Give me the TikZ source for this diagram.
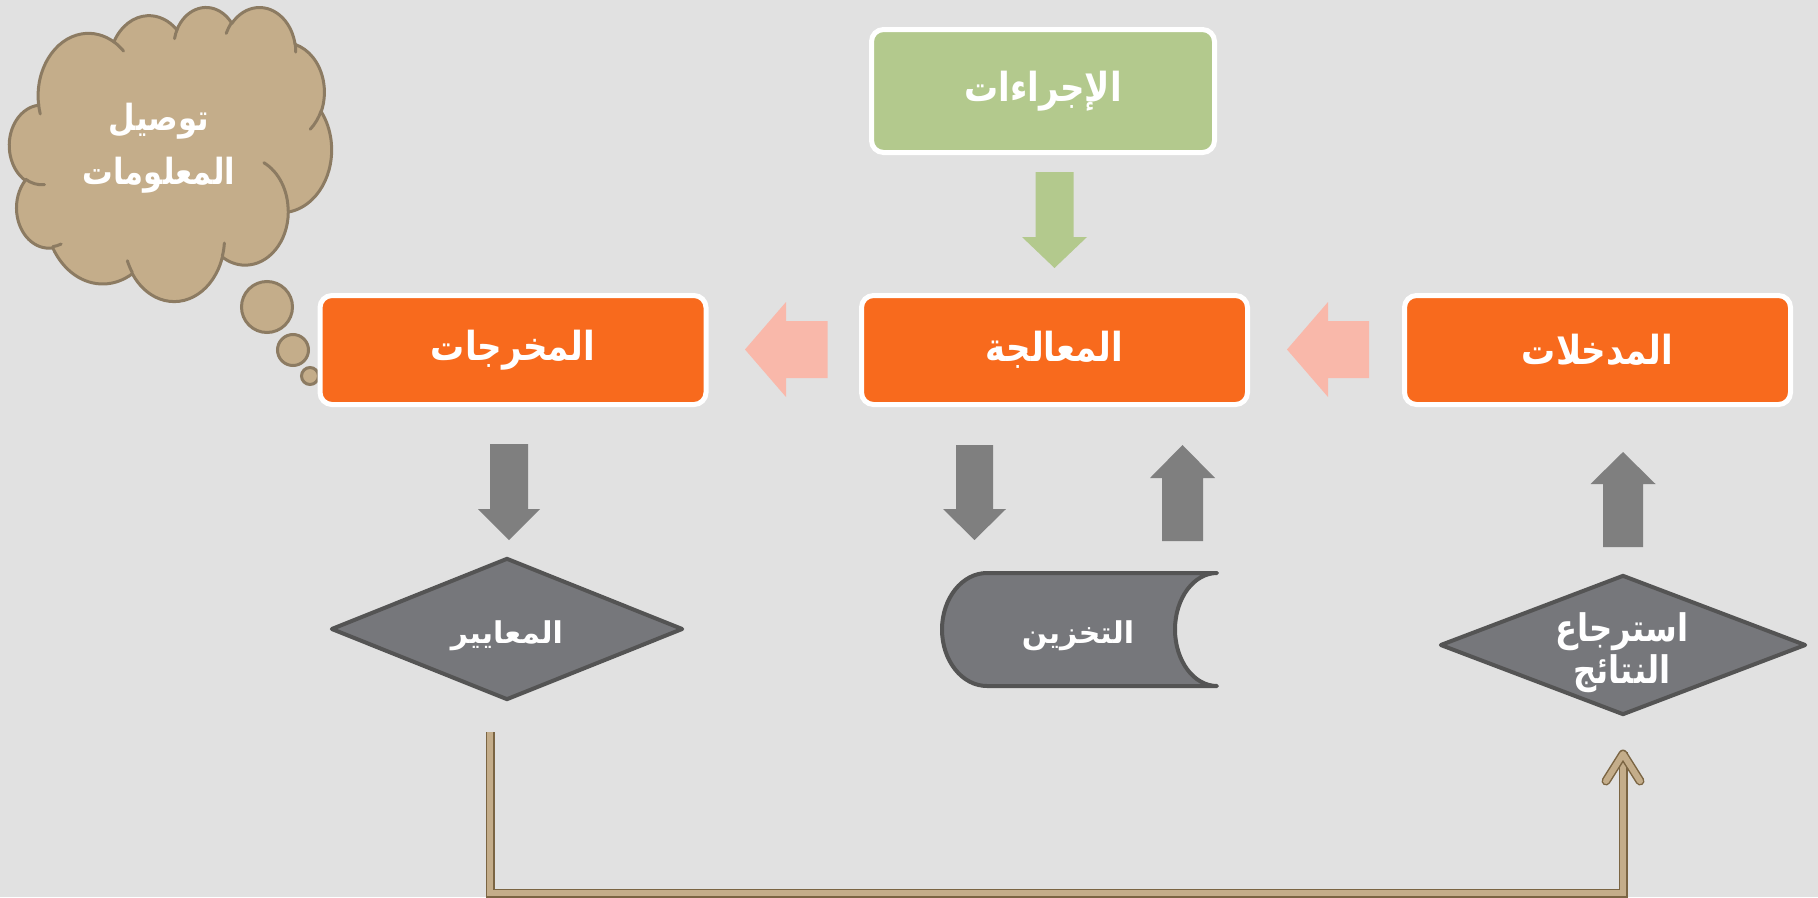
\documentclass[tikz,border=0pt]{standalone}
\usepackage{fontspec}
\newfontfamily\arabicfont[Script=Arabic]{DejaVu Sans}
\newfontfamily\arabicnarrow[Script=Arabic, FakeStretch=0.85]{DejaVu Sans}
\TeXXeTstate=1
\usetikzlibrary{shapes.geometric}
\definecolor{bgc}{HTML}{E1E1E1}
\definecolor{orangec}{HTML}{F86A1D}
\definecolor{greenc}{HTML}{B3C98D}
\definecolor{pinkc}{HTML}{F9B8AA}
\definecolor{arrowgray}{HTML}{7F7F7F}
\definecolor{shapefill}{HTML}{76777B}
\definecolor{shapeline}{HTML}{545454}
\definecolor{cloudfill}{HTML}{C4AD8A}
\definecolor{cloudline}{HTML}{8C7B62}
\definecolor{connline}{HTML}{7B6543}
\newcommand\myboxfont{\arabicnarrow\bfseries\fontsize{40}{48}\selectfont}
\newcommand\mysmallfont{\arabicfont\bfseries\fontsize{30}{36}\selectfont}
\newcommand\mydiafont{\arabicnarrow\bfseries\fontsize{38}{42}\selectfont}
\newcommand\mycloudfont{\arabicnarrow\bfseries\fontsize{36}{54}\selectfont}
\begin{document}
\begin{tikzpicture}[x=1pt,y=-1pt,
  obox/.style={rounded corners=12, draw=white, line width=5, fill=orangec,
    minimum width=386, minimum height=109, inner sep=0, text=white, font=\myboxfont},
  gbox/.style={obox, fill=greenc, minimum width=343, minimum height=123},
  blockgray/.style={fill=arrowgray},
  blockpink/.style={fill=pinkc},
  blockgreen/.style={fill=greenc},
  flowshape/.style={draw=shapeline, line width=4, fill=shapefill, line join=round},
  dia/.style={flowshape, diamond, inner sep=0},
  wtext/.style={text=white, inner sep=0, align=center},
  bubble/.style={circle, draw=cloudline, line width=3, fill=cloudfill, inner sep=0},
  cloudbody/.style={draw=cloudline, line width=3, fill=cloudfill, line join=round},
  cloudarc/.style={draw=cloudline, line width=3, line cap=round},
  ooarc/.style n args={4}{x radius=#1, y radius=#2,
    start angle={atan2((#1)*sin(#3),(#2)*cos(#3))},
    delta angle={mod(atan2((#1)*sin(#3+#4),(#2)*cos(#3+#4))-atan2((#1)*sin(#3),(#2)*cos(#3))+720,360)}},
  conn/.style={draw=connline, line width=1.5, double=cloudfill, double distance=6, line join=miter}
]
\useasboundingbox (0,0) rectangle (1818,897);
\fill[bgc] (0,0) rectangle (1818,897);

% cloud (callout)
\node[bubble, minimum size=51] (b1) at (267,307) {};
\node[bubble, minimum size=31] (b2) at (293,350) {};
\node[bubble, minimum size=17] (b3) at (310,376) {};
\begin{scope}[shift={(9.5,6.5)}, x=0.7454pt, y=-0.6806pt]
\path[cloudbody] (39.00,143.70)
  arc[ooarc={67.53}{91.90}{-190.4875}{123.7805}]
  arc[ooarc={53.33}{72.67}{-144.1024}{89.9452}]
  arc[ooarc={43.65}{59.45}{-145.8079}{99.7230}]
  arc[ooarc={48.57}{65.95}{-130.9861}{117.2417}]
  arc[ooarc={53.33}{72.73}{-78.7089}{109.0269}]
  arc[ooarc={67.75}{92.20}{-46.2673}{130.2690}]
  arc[ooarc={57.85}{78.67}{0.6250}{114.0333}]
  arc[ooarc={67.52}{92.15}{22.4516}{115.1726}]
  arc[ooarc={77.20}{105.43}{66.2426}{75.7110}]
  arc[ooarc={43.60}{59.18}{-274.9421}{146.7356}]
  arc[ooarc={43.45}{59.45}{-246.8285}{152.5189}]
  -- cycle;
\path[cloudarc] (46.93,261.77) arc[ooarc={43.45}{59.45}{86.7420}{26.4295}];
\path[cloudarc] (69.28,348.99) arc[ooarc={43.60}{59.18}{73.6105}{11.4475}];
\path[cloudarc] (164.78,390.90) arc[ooarc={67.52}{92.15}{137.6242}{14.0811}];
\path[cloudarc] (288.27,347.51) arc[ooarc={67.52}{92.15}{6.4533}{15.9984}];
\path[cloudarc] (341.29,229.54) arc[ooarc={57.85}{78.67}{-70.2924}{70.9174}];
\path[cloudarc] (417.98,153.54) arc[ooarc={53.33}{72.73}{30.3180}{27.7515}];
\path[cloudarc] (383.24,54.26) arc[ooarc={48.57}{65.95}{-13.7443}{14.8589}];
\path[cloudarc] (290.78,39.52) arc[ooarc={48.57}{65.95}{-149.1815}{18.1954}];
\path[cloudarc] (221.41,47.20) arc[ooarc={43.65}{59.45}{-163.4943}{17.6864}];
\path[cloudarc] (140.00,51.92) arc[ooarc={67.53}{91.90}{-66.7070}{12.3194}];
\path[cloudarc] (41.27,157.89) arc[ooarc={67.53}{91.90}{157.6544}{11.8582}];
\end{scope}
\node[wtext, font=\mycloudfont] (cloudtext) at (159,148) {\beginR توصيل\endR\\\beginR المعلومات\endR};

% boxes
\node[gbox] (proc) at (1043,91) {\beginR الإجراءات\endR};
\node[obox] (out) at (513,350) {\beginR المخرجات\endR};
\node[obox] (mid) at (1054.5,350) {\beginR المعالجة\endR};
\node[obox] (in) at (1597.5,350) {\beginR المدخلات\endR};

% green arrow
\fill[blockgreen] (1035.5,172) -- (1073.5,172) -- (1073.5,237) -- (1087,237) -- (1054.5,268)
  -- (1022,237) -- (1035.5,237) -- cycle;
% pink arrows
\fill[blockpink] (827.5,321) -- (827.5,378) -- (786,378) -- (786,397) -- (745,349.5)
  -- (786,302) -- (786,321) -- cycle;
\fill[blockpink] (1369,321) -- (1369,378) -- (1328,378) -- (1328,397) -- (1287,349.5)
  -- (1328,302) -- (1328,321) -- cycle;
% gray arrows
\fill[blockgray] (490,444) -- (528,444) -- (528,509) -- (540,509) -- (509,540)
  -- (478,509) -- (490,509) -- cycle;
\fill[blockgray] (956,445) -- (993,445) -- (993,509) -- (1006,509) -- (974.5,540)
  -- (943,509) -- (956,509) -- cycle;
\fill[blockgray] (1162,541) -- (1203,541) -- (1203,478) -- (1215,478) -- (1182.5,445)
  -- (1150,478) -- (1162,478) -- cycle;
\fill[blockgray] (1603,547) -- (1643,547) -- (1643,484) -- (1655.5,484) -- (1623,452)
  -- (1590.5,484) -- (1603,484) -- cycle;

% diamonds
\node[dia, aspect=2.44, minimum width=352, minimum height=142] (crit) at (507,629) {};
\node[wtext, font=\mysmallfont] (crittext) at (507,636) {\beginR المعايير\endR};
\node[dia, aspect=2.58, minimum width=366, minimum height=140] (retr) at (1623,645) {};
\node[wtext, font=\mydiafont] (retrtext) at (1622,653) {\beginR استرجاع\endR\\\beginR النتائج\endR};

% storage
\path[flowshape] (1217,573) -- (987,573)
  arc[start angle=270, end angle=90, x radius=45, y radius=56.5]
  -- (1217,686)
  arc[start angle=90, end angle=270, x radius=42, y radius=56.5] -- cycle;
\node[wtext, font=\mysmallfont] (store) at (1078,636) {\beginR التخزين\endR};

% connector
\coordinate (cstart) at (490,732);
\coordinate (cend) at (1623,752);
\coordinate (cbot) at (0,893);
\draw[conn] (cstart) -- (cstart |- cbot) -- (cend |- cbot) -- (cend);
\draw[conn, line join=round, line cap=round] ([xshift=-17]cend |- 0,781) -- ([yshift=-2]cend) -- ([xshift=17]cend |- 0,781);
\end{tikzpicture}
\end{document}
